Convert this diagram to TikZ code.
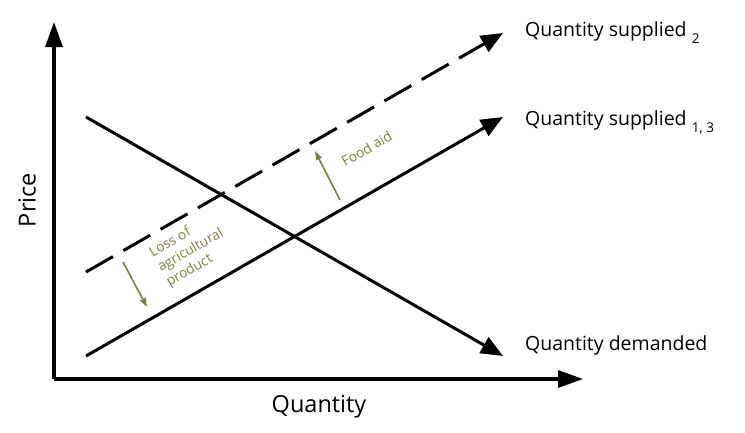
\documentclass[tikz,border=0pt]{standalone}
\usepackage{fontspec}
\setmainfont{Open Sans}
\usepackage{xcolor}
\usetikzlibrary{arrows.meta, positioning}

\definecolor{aidolive}{RGB}{128,128,64}
\newcommand{\qsub}[1]{{\fontsize{13.5}{14}\selectfont\raisebox{-7pt}{#1}}}

\begin{document}
\begin{tikzpicture}[x=1pt, y=-1pt, >=Stealth]
\useasboundingbox (0,0) rectangle (745,432);

% --- Style Definitions ---
\tikzstyle{axis_arrow}=[line width=3.2pt, -{Triangle[length=25pt, width=17pt]}]
\tikzstyle{curve_arrow}=[line width=3pt, -{Triangle[length=22pt, width=18pt]}]
\tikzstyle{shift_arrow}=[line width=1.6pt, aidolive, -{Triangle[length=9pt, width=6pt]}]
\tikzstyle{curve_label}=[anchor=base west, inner sep=0pt, font=\fontsize{19.5}{22}\selectfont]
\tikzstyle{axis_label}=[inner sep=0pt, font=\fontsize{23.5}{26}\selectfont]
\tikzstyle{shift_label}=[inner sep=0pt, aidolive, rotate=30, font=\fontsize{13.8}{17}\selectfont]

% --- Axes ---
\coordinate (origin) at (54,379);
\coordinate (price_tip) at (54,22);
\coordinate (qty_tip) at (583,379);

% --- Curve end points ---
\coordinate (demand_start) at (86,117);
\coordinate (demand_end) at (503,356);
\coordinate (supply13_start) at (86,356);
\coordinate (supply13_end) at (503,117);
\coordinate (supply2_start) at (86,272);
\coordinate (supply2_end) at (503,33);

% --- Shift arrows ---
\coordinate (food_tail) at (340,200);
\coordinate (food_head) at (315,151);
\coordinate (loss_tail) at (123,262);
\coordinate (loss_head) at (147,307);

% --- Draw Axes ---
\draw[axis_arrow] (origin) -- (price_tip);
\draw[axis_arrow] (origin) -- (qty_tip);

% --- Draw Curves ---
\draw[curve_arrow] (demand_start) -- (demand_end);
\draw[curve_arrow] (supply13_start) -- (supply13_end);
\draw[curve_arrow, dash pattern=on 31pt off 12pt] (supply2_start) -- (supply2_end);

% --- Draw Shifts ---
\draw[shift_arrow] (food_tail) -- (food_head);
\draw[shift_arrow] (loss_tail) -- (loss_head);

% --- Labels ---
\node[curve_label] (supply2_lbl) at (525,36) {Quantity supplied \qsub{2}};
\node[curve_label] (supply13_lbl) at (525,125) {Quantity supplied \qsub{1, 3}};
\node[curve_label] (demand_lbl) at (525,350) {Quantity demanded};
\node[axis_label, rotate=90] (price_lbl) at (27,200) {Price};
\node[axis_label, anchor=base] (qty_lbl) at (319,412) {Quantity};
\node[shift_label, anchor=base west] (food_lbl) at (345,167) {Food aid};
\node[shift_label, anchor=north west, align=left] (loss_lbl) at (147,248) {Loss of\\agricultural\\product};

\end{tikzpicture}
\end{document}
